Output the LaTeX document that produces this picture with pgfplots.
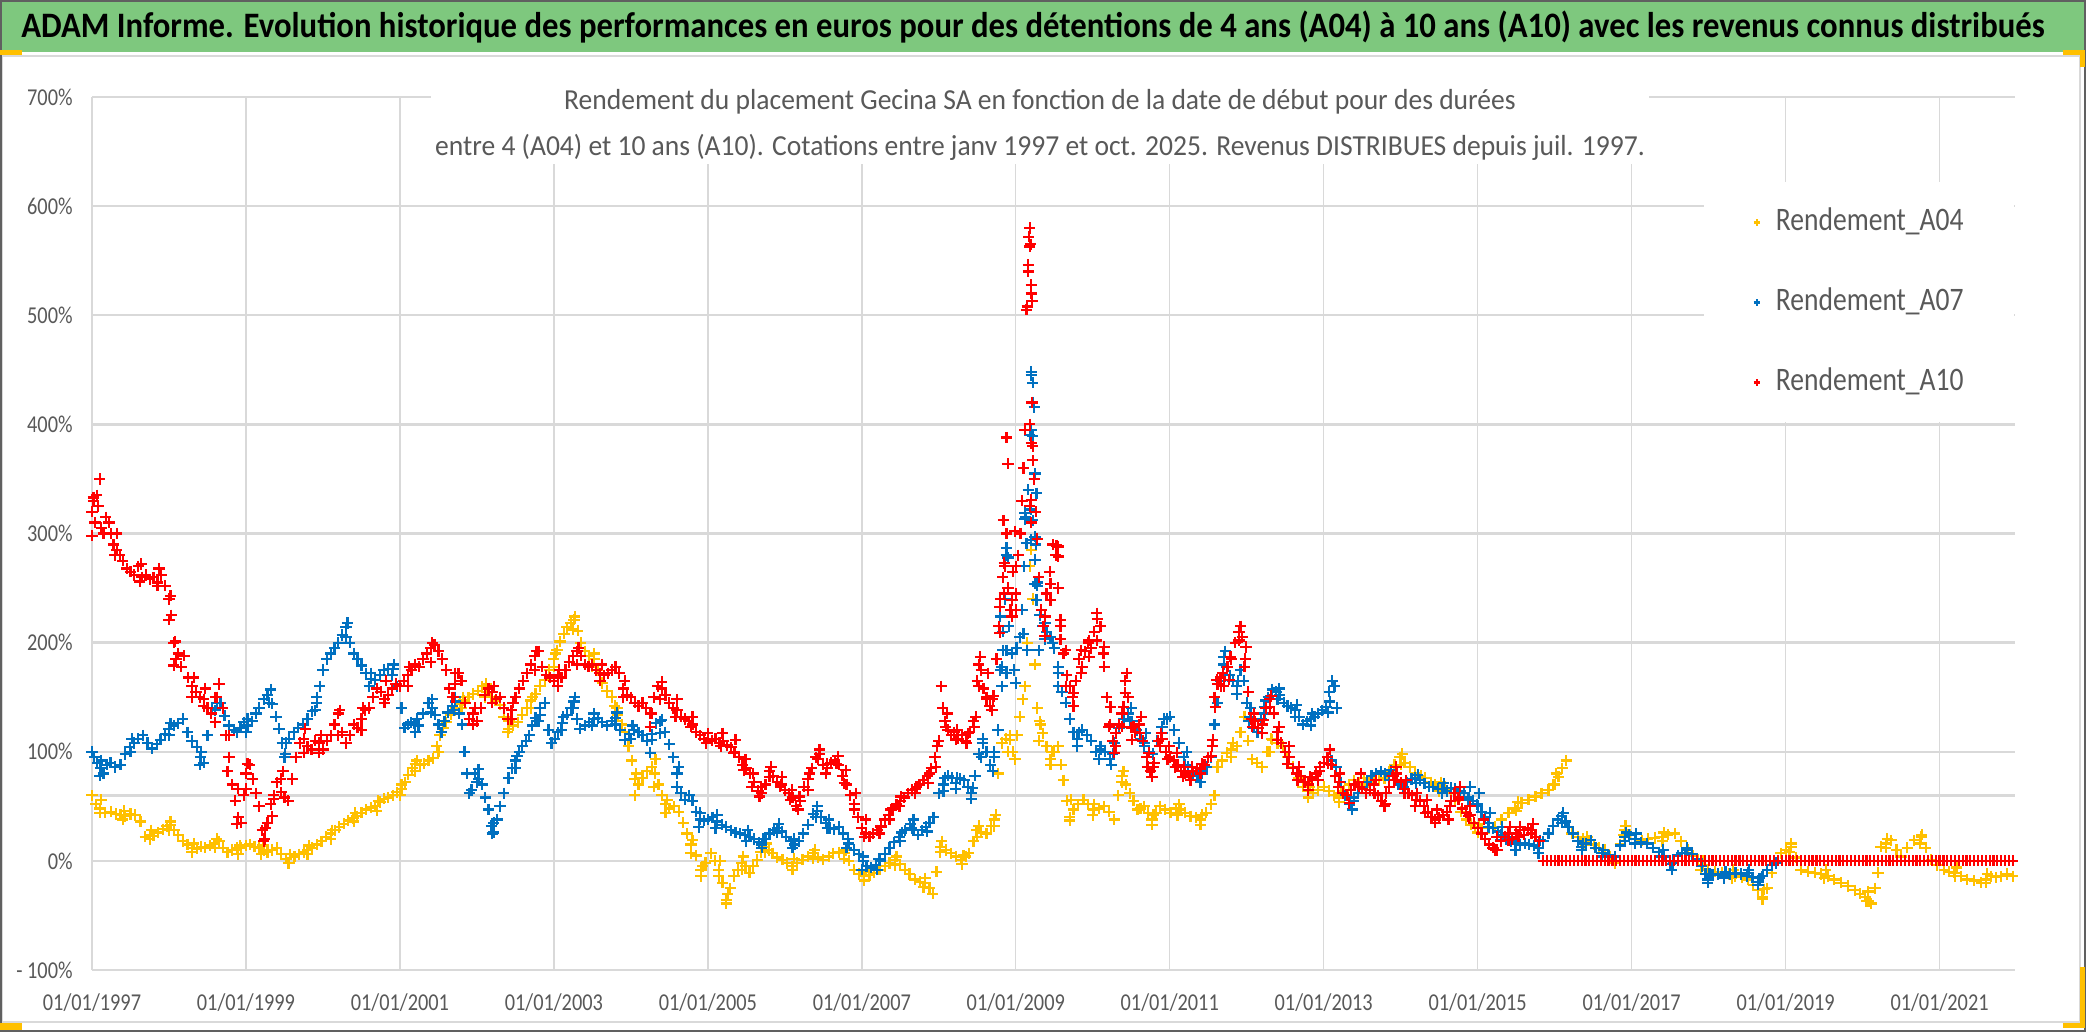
\documentclass[border=0pt]{standalone}
\usepackage{fontspec}
\setmainfont{Carlito}[FakeStretch=0.84]
\newfontfamily\bannerfont{Carlito}[FakeStretch=0.914]
\newfontfamily\titlefont{Carlito}[FakeStretch=0.95]
\usepackage{pgfplots}
\pgfplotsset{compat=1.18}
\definecolor{banner}{RGB}{126,200,126}
\definecolor{txtgray}{RGB}{89,89,89}
\definecolor{gridgray}{RGB}{217,217,217}
\definecolor{cA04}{RGB}{255,192,0}
\definecolor{cA07}{RGB}{0,112,192}
\definecolor{cA10}{RGB}{255,0,0}
\definecolor{handle}{RGB}{255,192,0}
\pgfplotsset{ser/.style={only marks, mark=+, mark size=2.8pt, line width=1.1pt}}

\begin{document}
\begin{tikzpicture}
\path[use as bounding box] (0,0) rectangle (1043pt,516pt);
\fill[white] (0,0) rectangle (1043pt,516pt);
\fill[banner] (0,490pt) rectangle (1043pt,516pt);
\draw[gridgray, line width=1pt] (1pt,5pt) rectangle (1040pt,488pt);
\node[font=\bannerfont\bfseries\fontsize{17.9}{20}\selectfont, text=black] at (516.5pt,502.5pt)
  {ADAM Informe. Evolution historique des performances en euros pour des détentions de 4 ans (A04) à 10 ans (A10) avec les revenus connus distribués};

\begin{axis}[
  at={(46pt,31pt)}, anchor=south west, scale only axis,
  width=961.5pt, height=436.5pt,
  xmin=1997, xmax=2021.98, ymin=-100, ymax=700,
  axis line style={draw=none},
  xtick={1997,1999,...,2021},
  xticklabels={01/01/1997,01/01/1999,01/01/2001,01/01/2003,01/01/2005,01/01/2007,01/01/2009,01/01/2011,01/01/2013,01/01/2015,01/01/2017,01/01/2019,01/01/2021},
  ytick={-100,0,100,200,300,400,500,600,700},
  yticklabels={{- 100\%},0\%,100\%,200\%,300\%,400\%,500\%,600\%,700\%},
  major tick length=0pt,
  xmajorgrids, ymajorgrids,
  x grid style={gridgray, line width=0.7pt},
  y grid style={gridgray, line width=1.2pt},
  ticklabel style={font=\fontsize{12.1}{14}\selectfont, text=txtgray, inner sep=0pt},
  xticklabel style={anchor=center, yshift=-16.5pt},
  yticklabel style={anchor=east, xshift=-9.5pt},
  clip=false,
  legend cell align=left,
  legend image code/.code={\draw[#1] plot coordinates {(0pt,0pt)};},
  legend image post style={mark size=1.6pt},
  legend style={at={(0.8378,0.9026)}, anchor=north west, fill=white, draw=none,
    inner xsep=25pt, inner ysep=12pt, row sep=24pt,
    column sep=8pt, font=\fontsize{16.4}{18}\selectfont, text=txtgray,
    nodes={inner sep=0pt, text height=12pt, text depth=4pt}},
]
\addplot[gridgray, line width=1.2pt, mark=none, forget plot] coordinates {(1997,60) (2021.98,60)};

% A04: band edges, then the main trace
\addplot[ser, color=cA04, forget plot] coordinates {
(1997.10,44) (1997.12,56) (1997.40,38) (1997.42,46) (1997.75,20) (1997.77,28) (1998.00,28) (1998.02,36)
(1998.30,8) (1998.32,16) (1998.60,12) (1998.62,20) (1998.90,6) (1998.92,14) (1999.20,6) (1999.22,14)
(1999.55,-2) (1999.57,6) (1999.80,6) (1999.82,14) (2000.10,20) (2000.12,28) (2000.40,36) (2000.42,44)
(2000.70,46) (2000.72,55) (2001.00,60) (2001.02,70) (2001.20,82) (2001.22,92) (2001.50,100) (2001.52,115)
(2001.80,140) (2001.82,150) (2002.10,150) (2002.12,162) (2002.40,118) (2002.42,128) (2002.70,140) (2002.72,150)
(2003.00,178) (2003.02,190) (2003.25,212) (2003.27,224) (2003.50,178) (2003.52,190) (2003.80,128) (2003.82,140)
(2004.05,60) (2004.07,80) (2004.30,68) (2004.32,93) (2004.45,44) (2004.47,56) (2004.78,7) (2004.80,19)
(2004.91,-14) (2004.93,-5) (2005.14,-14) (2005.16,0) (2005.24,-39) (2005.26,-30) (2005.44,-8) (2005.46,4)
(2005.74,8) (2005.76,16) (2006.10,-8) (2006.12,2) (2006.37,2) (2006.39,10) (2006.77,2) (2006.79,10)
(2007.03,-18) (2007.05,-10) (2007.43,-4) (2007.45,4) (2007.80,-24) (2007.82,-16) (2008.02,8) (2008.04,18)
(2008.30,-3) (2008.32,5) (2008.50,22) (2008.52,32) (2008.72,32) (2008.74,42) (2008.90,100) (2008.92,115)
(2009.30,110) (2009.32,125) (2009.45,88) (2009.47,100) (2009.70,37) (2009.72,56) (2010.00,42) (2010.02,52)
(2010.38,72) (2010.40,82) (2010.77,33) (2010.79,42) (2011.10,42) (2011.12,52) (2011.40,33) (2011.42,42)
(2011.80,95) (2011.82,108) (2012.30,100) (2012.32,112) (2012.80,58) (2012.82,68) (2013.20,54) (2013.22,62)
(2013.50,66) (2013.52,76) (2014.00,88) (2014.02,98) (2014.50,64) (2014.52,72) (2015.00,26) (2015.02,34)
(2015.50,46) (2015.52,54) (2016.00,70) (2016.02,80) (2016.40,15) (2016.42,22) (2016.90,24) (2016.92,32)
(2017.40,18) (2017.42,26) (2017.90,-8) (2017.92,0) (2018.30,-16) (2018.32,-8) (2018.70,-35) (2018.72,-26)
(2019.05,8) (2019.07,16) (2019.50,-16) (2019.52,-8) (2020.05,-37) (2020.07,-28) (2020.30,12) (2020.32,20)
(2020.75,16) (2020.77,24) (2021.20,-14) (2021.22,-6) (2021.60,-20) (2021.62,-12)
};
\addplot[ser, color=cA04] coordinates {
(1997.00,60) (1997.05,52) (1997.10,48) (1997.17,44) (1997.25,45) (1997.31,43) (1997.37,42) (1997.43,41)
(1997.50,43) (1997.56,42) (1997.63,36) (1997.69,22) (1997.75,24) (1997.80,23) (1997.86,26) (1997.92,29)
(1997.97,32) (1998.02,33) (1998.07,28) (1998.12,24) (1998.18,18) (1998.24,15) (1998.30,12) (1998.36,11)
(1998.42,13) (1998.47,12) (1998.53,14) (1998.59,16) (1998.65,18) (1998.70,12) (1998.76,8) (1998.82,10)
(1998.88,12) (1998.94,12) (1999.00,14) (1999.05,15) (1999.11,13) (1999.17,12) (1999.23,10) (1999.28,8)
(1999.34,10) (1999.40,12) (1999.46,6) (1999.52,2) (1999.56,-2) (1999.63,4) (1999.69,6) (1999.75,8)
(1999.80,10) (1999.86,12) (1999.92,15) (1999.98,18) (2000.04,22) (2000.10,25) (2000.16,28) (2000.21,31)
(2000.27,34) (2000.33,37) (2000.39,39) (2000.44,41) (2000.50,44) (2000.56,47) (2000.62,49) (2000.68,50)
(2000.74,54) (2000.79,57) (2000.85,58) (2000.91,60) (2000.96,63) (2001.02,66) (2001.07,72) (2001.11,79)
(2001.16,85) (2001.20,89) (2001.26,88) (2001.31,89) (2001.37,92) (2001.43,94) (2001.48,105) (2001.52,115)
(2001.56,122) (2001.60,127) (2001.66,134) (2001.72,140) (2001.78,144) (2001.83,147) (2001.89,150) (2001.95,153)
(2002.01,156) (2002.07,160) (2002.12,155) (2002.18,150) (2002.24,147) (2002.30,143) (2002.35,132) (2002.41,121)
(2002.47,124) (2002.53,127) (2002.59,134) (2002.65,140) (2002.70,147) (2002.76,153) (2002.82,160) (2002.88,166)
(2002.94,175) (2003.00,185) (2003.04,193) (2003.08,201) (2003.13,208) (2003.17,214) (2003.22,218) (2003.26,221)
(2003.31,211) (2003.35,200) (2003.40,192) (2003.46,188) (2003.52,185) (2003.57,175) (2003.63,163) (2003.69,156)
(2003.75,150) (2003.79,142) (2003.83,134) (2003.88,125) (2003.92,118) (2003.97,105) (2004.01,92) (2004.05,75)
(2004.10,70) (2004.15,76) (2004.21,82) (2004.27,86) (2004.31,80) (2004.36,70) (2004.40,60) (2004.45,52)
(2004.50,48) (2004.56,50) (2004.62,45) (2004.68,35) (2004.73,25) (2004.78,15) (2004.85,5) (2004.91,-8)
(2004.97,-2) (2005.04,7) (2005.09,0) (2005.14,-8) (2005.19,-20) (2005.24,-36) (2005.29,-25) (2005.34,-14)
(2005.39,-8) (2005.44,-2) (2005.49,-5) (2005.54,-11) (2005.59,-5) (2005.64,1) (2005.69,8) (2005.74,13)
(2005.79,10) (2005.84,7) (2005.90,3) (2005.97,1) (2006.03,-2) (2006.10,-5) (2006.16,-2) (2006.23,1)
(2006.30,4) (2006.37,7) (2006.43,3) (2006.50,1) (2006.57,4) (2006.63,7) (2006.70,8) (2006.77,7)
(2006.83,0) (2006.90,-8) (2006.96,-12) (2007.03,-14) (2007.10,-13) (2007.16,-11) (2007.23,-8) (2007.30,-5)
(2007.36,-2) (2007.43,1) (2007.50,-3) (2007.56,-8) (2007.62,-12) (2007.69,-17) (2007.76,-19) (2007.82,-20)
(2007.88,-25) (2007.92,-30) (2007.97,-10) (2008.02,13) (2008.09,10) (2008.16,7) (2008.22,4) (2008.29,1)
(2008.35,4) (2008.39,7) (2008.45,18) (2008.49,28) (2008.55,26) (2008.62,25) (2008.68,32) (2008.72,38)
(2008.77,80) (2008.82,108) (2008.87,112) (2008.92,111) (2008.96,100) (2008.99,93) (2009.02,115) (2009.05,132)
(2009.09,148) (2009.12,160) (2009.15,200) (2009.18,270) (2009.20,285) (2009.22,240) (2009.25,180) (2009.28,140)
(2009.31,128) (2009.35,117) (2009.40,105) (2009.45,93) (2009.50,100) (2009.55,105) (2009.59,88) (2009.62,74)
(2009.66,55) (2009.70,40) (2009.75,47) (2009.81,52) (2009.88,56) (2009.94,52) (2010.01,47) (2010.08,48)
(2010.15,50) (2010.21,45) (2010.28,38) (2010.33,60) (2010.38,78) (2010.43,70) (2010.48,62) (2010.53,55)
(2010.58,47) (2010.62,48) (2010.67,50) (2010.72,44) (2010.77,38) (2010.82,44) (2010.87,50) (2010.94,47)
(2011.01,44) (2011.08,48) (2011.14,47) (2011.20,44) (2011.27,41) (2011.34,40) (2011.40,38) (2011.47,44)
(2011.54,52) (2011.58,60) (2011.62,86) (2011.68,92) (2011.74,99) (2011.80,102) (2011.87,105) (2011.92,118)
(2011.97,132) (2012.02,110) (2012.07,93) (2012.13,90) (2012.20,86) (2012.27,100) (2012.33,111) (2012.40,108)
(2012.47,105) (2012.53,95) (2012.60,86) (2012.67,76) (2012.73,68) (2012.80,64) (2012.86,62) (2012.93,65)
(2013.00,68) (2013.07,64) (2013.13,60) (2013.20,58) (2013.26,64) (2013.33,70) (2013.39,74) (2013.46,72)
(2013.53,70) (2013.59,72) (2013.66,74) (2013.72,74) (2013.79,76) (2013.85,82) (2013.92,88) (2013.99,95)
(2014.05,90) (2014.12,86) (2014.19,80) (2014.26,78) (2014.32,76) (2014.39,72) (2014.45,70) (2014.52,68)
(2014.58,66) (2014.65,62) (2014.71,55) (2014.78,45) (2014.85,38) (2014.91,33) (2014.97,31) (2015.05,30)
(2015.14,30) (2015.23,31) (2015.31,38) (2015.40,44) (2015.48,48) (2015.57,53) (2015.66,56) (2015.75,59)
(2015.83,62) (2015.92,65) (2015.98,70) (2016.05,77) (2016.10,85) (2016.15,92) (2016.22,25) (2016.30,22)
(2016.37,20) (2016.44,19) (2016.51,15) (2016.58,12) (2016.65,10) (2016.72,4) (2016.78,-2) (2016.85,15)
(2016.91,28) (2016.98,24) (2017.05,20) (2017.13,19) (2017.21,20) (2017.30,21) (2017.39,22) (2017.47,24)
(2017.56,25) (2017.64,18) (2017.73,10) (2017.80,5) (2017.86,1) (2017.93,-4) (2017.99,-8) (2018.08,-10)
(2018.17,-11) (2018.26,-12) (2018.34,-14) (2018.43,-15) (2018.51,-17) (2018.58,-22) (2018.64,-27) (2018.70,-33)
(2018.76,-25) (2018.82,-11) (2018.88,-2) (2018.94,7) (2019.00,10) (2019.07,13) (2019.13,3) (2019.20,-8)
(2019.29,-10) (2019.38,-11) (2019.46,-12) (2019.55,-14) (2019.63,-17) (2019.72,-20) (2019.81,-23) (2019.90,-27)
(2019.97,-30) (2020.03,-33) (2020.08,-37) (2020.11,-39) (2020.16,-25) (2020.20,-11) (2020.24,13) (2020.30,16)
(2020.37,19) (2020.44,10) (2020.50,4) (2020.58,12) (2020.67,19) (2020.76,22) (2020.82,12) (2020.89,1)
(2020.97,-4) (2021.06,-8) (2021.12,-10) (2021.19,-11) (2021.28,-14) (2021.36,-17) (2021.45,-18) (2021.54,-20)
(2021.60,-17) (2021.67,-14) (2021.73,-15) (2021.80,-14) (2021.88,-12) (2021.95,-14)
};
\addlegendentry{Rendement\_A04}

% A07: band edges, then the main trace
\addplot[ser, color=cA07, forget plot] coordinates {
(1997.10,78) (1997.12,92) (1997.50,100) (1997.52,112) (1998.00,115) (1998.02,126) (1998.40,88) (1998.42,100)
(1998.60,138) (1998.62,150) (1999.00,118) (1999.02,130) (1999.30,145) (1999.32,157) (1999.50,95) (1999.52,108)
(1999.90,138) (1999.92,150) (2000.30,205) (2000.32,218) (2000.60,160) (2000.62,172) (2000.90,170) (2000.92,180)
(2001.20,118) (2001.22,130) (2001.40,136) (2001.42,148) (2001.70,138) (2001.72,150) (2002.00,72) (2002.02,84)
(2002.20,25) (2002.22,35) (2002.50,85) (2002.52,96) (2002.80,128) (2002.82,140) (2003.10,120) (2003.12,132)
(2003.25,140) (2003.27,150) (2003.50,124) (2003.52,135) (2003.80,125) (2003.82,136) (2004.00,112) (2004.02,124)
(2004.25,99) (2004.27,111) (2004.38,117) (2004.40,129) (2004.60,68) (2004.62,86) (2004.88,31) (2004.90,44)
(2005.10,30) (2005.12,42) (2005.50,18) (2005.52,28) (2005.70,12) (2005.72,20) (2005.90,26) (2005.92,34)
(2006.10,12) (2006.12,20) (2006.40,40) (2006.42,50) (2006.55,30) (2006.57,38) (2006.80,12) (2006.82,20)
(2007.00,-8) (2007.02,4) (2007.20,-8) (2007.22,2) (2007.50,18) (2007.52,26) (2007.65,30) (2007.67,38)
(2007.85,27) (2007.87,35) (2008.06,64) (2008.08,76) (2008.22,66) (2008.24,76) (2008.42,57) (2008.44,67)
(2008.55,95) (2008.57,112) (2008.70,82) (2008.72,100)
(2008.82,160) (2008.82,178) (2008.88,172) (2008.88,193) (2008.95,190) (2009.00,163) (2009.12,313) (2009.12,319)
(2009.14,291) (2009.25,297) (2009.25,276) (2009.28,255) (2009.38,203) (2009.38,218) (2009.48,200) (2009.55,160)
(2009.55,178) (2009.20,448) (2009.22,438) (2009.24,416) (2009.20,395) (2009.22,389) (2009.25,355) (2009.27,337)
(2009.20,322) (2009.22,312) (2008.88,287) (2008.90,278) (2009.20,294) (2009.25,254) (2009.27,239) (2009.30,193)
(2009.10,208) (2009.15,193) (2008.80,224) (2008.83,193)
(2009.80,105) (2009.82,118) (2010.08,93) (2010.10,105) (2010.24,88) (2010.26,98) (2010.48,128) (2010.50,140)
(2010.67,105) (2010.69,117) (2010.90,117) (2010.92,130) (2011.20,88) (2011.22,100) (2011.40,72) (2011.42,82)
(2011.70,180) (2011.72,192) (2011.87,153) (2011.89,165) (2012.03,128) (2012.05,140) (2012.23,135) (2012.25,147)
(2012.40,148) (2012.42,158) (2012.63,132) (2012.65,143) (2012.83,124) (2012.85,135) (2013.06,136) (2013.08,146)
(2013.37,47) (2013.39,58) (2013.85,74) (2013.87,83) (2014.20,71) (2014.22,79) (2014.54,62) (2014.56,71)
(2014.88,56) (2014.90,68) (2015.00,50) (2015.02,62) (2015.14,31) (2015.16,44) (2015.30,19) (2015.32,31)
(2015.49,10) (2015.51,22) (2015.79,7) (2015.81,19) (2016.09,35) (2016.11,44) (2016.35,10) (2016.37,16)
(2016.61,4) (2016.63,10) (2016.91,18) (2016.93,26) (2017.04,16) (2017.06,25) (2017.39,4) (2017.41,10)
(2017.52,-8) (2017.54,-2) (2017.70,7) (2017.72,12) (2017.99,-20) (2018.01,-12) (2018.20,-16) (2018.22,-10)
(2018.50,-14) (2018.52,-8) (2018.64,-22) (2018.66,-16)
};
\addplot[ser, color=cA07] coordinates {
(1997.00,100) (1997.03,95) (1997.07,90) (1997.11,85) (1997.15,80) (1997.19,88) (1997.24,90) (1997.30,86)
(1997.37,88) (1997.43,98) (1997.49,104) (1997.55,108) (1997.60,112) (1997.66,115) (1997.72,108) (1997.78,103)
(1997.84,107) (1997.89,111) (1997.95,116) (1998.00,121) (1998.06,124) (1998.12,126) (1998.18,130) (1998.24,118)
(1998.30,110) (1998.36,104) (1998.41,95) (1998.45,90) (1998.50,115) (1998.56,140) (1998.62,145) (1998.67,145)
(1998.72,133) (1998.78,124) (1998.84,120) (1998.88,118) (1998.93,122) (1998.97,127) (1999.02,124) (1999.08,128)
(1999.13,135) (1999.17,140) (1999.23,148) (1999.28,152) (1999.34,144) (1999.39,132) (1999.43,121) (1999.47,108)
(1999.51,98) (1999.56,112) (1999.62,118) (1999.68,122) (1999.74,125) (1999.80,130) (1999.86,137) (1999.92,145)
(1999.96,160) (2000.00,175) (2000.05,185) (2000.10,190) (2000.15,195) (2000.20,200) (2000.25,207) (2000.30,214)
(2000.35,200) (2000.40,190) (2000.45,185) (2000.50,179) (2000.56,172) (2000.62,167) (2000.68,166) (2000.74,170)
(2000.79,175) (2000.85,176) (2000.91,176) (2000.96,160) (2001.02,140) (2001.06,122) (2001.10,125) (2001.14,127)
(2001.19,126) (2001.24,124) (2001.30,135) (2001.37,145) (2001.42,140) (2001.46,134) (2001.50,125) (2001.54,118)
(2001.58,128) (2001.62,136) (2001.68,142) (2001.72,146) (2001.77,135) (2001.81,125) (2001.84,100) (2001.87,80)
(2001.90,62) (2001.93,65) (2001.97,80) (2002.02,75) (2002.07,70) (2002.11,58) (2002.15,47) (2002.19,32)
(2002.22,26) (2002.26,38) (2002.30,50) (2002.35,62) (2002.41,76) (2002.46,85) (2002.50,92) (2002.55,100)
(2002.59,105) (2002.64,110) (2002.68,115) (2002.72,124) (2002.76,131) (2002.82,134) (2002.88,145) (2002.93,120)
(2002.97,108) (2003.01,112) (2003.05,118) (2003.11,126) (2003.17,134) (2003.22,140) (2003.26,146) (2003.30,130)
(2003.34,121) (2003.40,124) (2003.46,127) (2003.52,130) (2003.57,131) (2003.63,127) (2003.69,124) (2003.75,128)
(2003.80,131) (2003.86,120) (2003.92,111) (2003.98,116) (2004.04,120) (2004.10,118) (2004.15,115) (2004.21,110)
(2004.27,116) (2004.33,126) (2004.38,128) (2004.44,118) (2004.50,107) (2004.55,95) (2004.60,80) (2004.65,62)
(2004.70,56) (2004.76,60) (2004.80,55) (2004.85,45) (2004.90,38) (2004.95,37) (2005.00,38) (2005.06,40)
(2005.12,36) (2005.18,33) (2005.24,31) (2005.30,28) (2005.36,26) (2005.42,25) (2005.48,24) (2005.54,22)
(2005.60,20) (2005.66,17) (2005.70,15) (2005.75,20) (2005.80,25) (2005.86,28) (2005.90,30) (2005.96,27)
(2006.02,22) (2006.08,18) (2006.13,15) (2006.18,18) (2006.24,25) (2006.30,33) (2006.37,43) (2006.42,46)
(2006.47,40) (2006.53,35) (2006.58,30) (2006.64,29) (2006.70,31) (2006.76,25) (2006.83,16) (2006.90,10)
(2006.96,6) (2007.02,0) (2007.06,-5) (2007.12,-6) (2007.18,-4) (2007.24,0) (2007.30,6) (2007.36,12)
(2007.42,17) (2007.49,22) (2007.56,28) (2007.63,34) (2007.68,28) (2007.73,24) (2007.78,28) (2007.83,31)
(2007.88,35) (2007.93,40) (2008.00,62) (2008.06,70) (2008.12,78) (2008.17,76) (2008.22,71) (2008.28,75)
(2008.33,74) (2008.38,68) (2008.42,62) (2008.47,78) (2008.52,98) (2008.57,108) (2008.62,100) (2008.67,88)
(2008.72,95) (2008.77,120) (2008.80,175) (2008.83,210) (2008.86,240) (2008.88,280) (2008.91,215) (2008.95,190)
(2008.98,175) (2009.01,195) (2009.05,205) (2009.08,230) (2009.11,270) (2009.13,315) (2009.16,340) (2009.18,390)
(2009.20,445) (2009.22,420) (2009.24,350) (2009.26,290) (2009.28,252) (2009.31,225) (2009.35,215) (2009.40,210)
(2009.45,205) (2009.50,195) (2009.55,172) (2009.60,155) (2009.65,145) (2009.70,130) (2009.75,118) (2009.80,112)
(2009.86,120) (2009.92,115) (2009.98,110) (2010.04,100) (2010.10,102) (2010.16,100) (2010.22,93) (2010.28,108)
(2010.34,122) (2010.40,130) (2010.46,135) (2010.51,128) (2010.57,120) (2010.62,112) (2010.67,108) (2010.73,100)
(2010.78,98) (2010.84,110) (2010.90,123) (2010.96,130) (2011.00,132) (2011.06,120) (2011.12,108) (2011.18,95)
(2011.24,86) (2011.30,80) (2011.36,78) (2011.42,80) (2011.48,86) (2011.54,95) (2011.58,125) (2011.62,145)
(2011.66,165) (2011.70,187) (2011.74,178) (2011.78,170) (2011.82,165) (2011.87,160) (2011.92,175) (2011.96,165)
(2012.00,145) (2012.04,132) (2012.09,122) (2012.14,118) (2012.19,130) (2012.23,141) (2012.28,150) (2012.33,157)
(2012.38,155) (2012.43,152) (2012.48,145) (2012.53,142) (2012.58,140) (2012.63,138) (2012.68,132) (2012.73,125)
(2012.78,128) (2012.83,130) (2012.88,132) (2012.93,135) (2012.98,138) (2013.03,141) (2013.07,155) (2013.11,165)
(2013.14,160) (2013.17,140)
(2013.10,92) (2013.16,86) (2013.22,72) (2013.28,60) (2013.34,52) (2013.39,55) (2013.45,62) (2013.50,68)
(2013.56,72) (2013.62,78) (2013.68,80) (2013.74,82) (2013.80,80) (2013.85,78) (2013.91,74) (2013.97,70)
(2014.03,68) (2014.08,72) (2014.14,75) (2014.19,76) (2014.25,74) (2014.31,71) (2014.37,68) (2014.42,68)
(2014.48,66) (2014.54,66) (2014.60,64) (2014.65,67) (2014.71,66) (2014.77,64) (2014.82,62) (2014.88,58)
(2014.94,55) (2014.99,52) (2015.05,45) (2015.10,40) (2015.14,35) (2015.20,30) (2015.26,27) (2015.31,24)
(2015.37,20) (2015.43,18) (2015.49,16) (2015.55,15) (2015.61,16) (2015.67,15) (2015.73,14) (2015.79,12)
(2015.85,18) (2015.92,25) (2015.98,32) (2016.04,38) (2016.09,41) (2016.14,36) (2016.18,31) (2016.24,25)
(2016.30,18) (2016.35,13) (2016.41,16) (2016.47,19) (2016.53,12) (2016.61,7) (2016.70,5) (2016.78,4)
(2016.85,14) (2016.91,22) (2016.97,24) (2017.04,20) (2017.12,17) (2017.20,16) (2017.28,12) (2017.35,8)
(2017.42,4) (2017.50,-3) (2017.55,0) (2017.60,5) (2017.65,7) (2017.72,10) (2017.78,6) (2017.85,2)
(2017.91,-5) (2017.96,-12) (2017.99,-17) (2018.05,-13) (2018.12,-12) (2018.20,-14) (2018.28,-12) (2018.35,-11)
(2018.42,-12) (2018.51,-11) (2018.57,-15) (2018.64,-19) (2018.70,-14) (2018.76,-8) (2018.82,-4) (2018.88,-2)
};
\addlegendentry{Rendement\_A07}

% A10: band edges, then the main trace
\addplot[ser, color=cA10, forget plot] coordinates {
(1997.00,298) (1997.02,333) (1997.30,280) (1997.32,300) (1997.62,256) (1997.64,272) (1997.85,252) (1997.87,268)
(1998.00,221) (1998.02,243) (1998.06,179) (1998.08,201) (1998.30,150) (1998.32,168) (1998.45,142) (1998.47,158)
(1998.60,127) (1998.62,150) (1998.76,82) (1998.78,115) (1998.88,34) (1998.90,66) (1999.00,66) (1999.02,89)
(1999.23,18) (1999.25,30) (1999.34,41) (1999.36,57) (1999.46,63) (1999.48,82) (1999.75,99) (1999.77,121)
(1999.95,99) (1999.97,115) (2000.20,115) (2000.22,138) (2000.50,120) (2000.52,140) (2000.80,145) (2000.82,165)
(2001.10,160) (2001.12,178) (2001.40,182) (2001.42,200) (2001.70,150) (2001.72,172) (2001.95,125) (2001.97,140)
(2002.20,145) (2002.22,160) (2002.45,130) (2002.47,145) (2002.75,175) (2002.77,192) (2003.05,160) (2003.07,175)
(2003.30,180) (2003.32,195) (2003.60,165) (2003.62,180) (2003.90,150) (2003.92,165) (2004.25,123) (2004.27,135)
(2004.38,148) (2004.40,164) (2004.58,132) (2004.60,148) (2004.78,123) (2004.80,132) (2004.98,108) (2005.00,117)
(2005.17,105) (2005.19,117) (2005.34,99) (2005.36,111) (2005.47,83) (2005.49,93) (2005.57,68) (2005.59,80)
(2005.67,59) (2005.69,68) (2005.80,77) (2005.82,86) (2005.94,68) (2005.96,77) (2006.07,56) (2006.09,65)
(2006.17,47) (2006.19,59) (2006.30,65) (2006.32,80) (2006.43,93) (2006.45,102) (2006.53,80) (2006.55,89)
(2006.67,89) (2006.69,96) (2006.77,71) (2006.79,83) (2006.90,47) (2006.92,62) (2007.03,22) (2007.05,38)
(2007.23,25) (2007.25,31) (2007.36,38) (2007.38,47) (2007.49,50) (2007.51,59) (2007.69,62) (2007.71,68)
(2007.86,71) (2007.88,80) (2007.96,86) (2007.98,105) (2008.09,123) (2008.11,135) (2008.22,111) (2008.24,120)
(2008.36,108) (2008.38,117) (2008.46,123) (2008.48,132) (2008.52,160) (2008.54,187) (2008.62,148) (2008.64,172)
(2008.69,138) (2008.71,151)
(2008.79,209) (2008.79,233) (2008.85,245) (2008.85,273) (2008.95,224) (2008.95,239) (2009.00,230) (2009.00,270)
(2009.38,206) (2009.38,224) (2009.45,239) (2009.45,254) (2009.55,279) (2009.55,288) (2009.58,203) (2009.58,221)
(2009.65,160) (2009.65,193) (2009.75,142) (2009.75,154) (2009.85,172) (2009.85,193) (2009.95,187) (2009.95,202)
(2010.05,202) (2010.05,227) (2010.15,178) (2010.15,196) (2008.88,388) (2008.90,364) (2009.18,400) (2009.20,383)
(2009.22,367) (2009.20,331) (2009.18,325) (2009.20,310) (2008.84,312) (2008.99,302) (2009.53,289) (2009.16,546)
(2009.20,528) (2009.15,508) (2009.21,513) (2009.17,572) (2009.18,563)
(2010.21,123) (2010.23,141) (2010.28,99) (2010.30,117) (2010.38,123) (2010.40,141) (2010.42,154) (2010.44,172)
(2010.51,111) (2010.53,123) (2010.61,117) (2010.63,132) (2010.71,86) (2010.73,99) (2010.77,77) (2010.79,86)
(2010.87,105) (2010.89,117) (2010.97,93) (2010.99,105) (2011.07,86) (2011.09,99) (2011.17,77) (2011.19,86)
(2011.27,74) (2011.29,86) (2011.40,80) (2011.42,89) (2011.54,96) (2011.56,111) (2011.59,141) (2011.61,166)
(2011.67,160) (2011.69,172) (2011.77,166) (2011.79,187) (2011.90,202) (2011.92,215) (2011.97,178) (2011.99,196)
(2012.07,123) (2012.09,135) (2012.20,117) (2012.22,129) (2012.30,141) (2012.32,151) (2012.40,111) (2012.42,123)
(2012.53,89) (2012.55,105) (2012.66,74) (2012.68,86) (2012.80,65) (2012.82,77) (2012.93,74) (2012.95,86)
(2013.06,89) (2013.08,102) (2013.19,68) (2013.21,80) (2013.33,53) (2013.35,65) (2013.46,68) (2013.48,80)
(2013.66,62) (2013.68,74) (2013.79,50) (2013.81,62) (2013.92,74) (2013.94,86) (2014.05,62) (2014.07,74)
(2014.19,50) (2014.21,62) (2014.32,44) (2014.34,56) (2014.45,35) (2014.47,47) (2014.62,38) (2014.64,50)
(2014.75,56) (2014.77,68) (2014.88,41) (2014.90,50) (2015.06,25) (2015.08,38) (2015.23,10) (2015.25,22)
(2015.40,19) (2015.42,31) (2015.53,22) (2015.55,31) (2015.70,25) (2015.72,34)
};
\addplot[ser, color=cA10] coordinates {
(1997.00,320) (1997.02,330) (1997.04,310) (1997.06,335) (1997.08,325) (1997.10,350) (1997.12,305) (1997.15,300)
(1997.18,315) (1997.22,310) (1997.25,300) (1997.28,290) (1997.32,285) (1997.36,280) (1997.40,275) (1997.45,268)
(1997.50,265) (1997.55,262) (1997.60,270) (1997.65,260) (1997.70,262) (1997.75,258) (1997.80,260) (1997.85,255)
(1997.90,262) (1997.95,252) (1998.00,240) (1998.03,225) (1998.06,200) (1998.09,185) (1998.12,190) (1998.16,178)
(1998.20,188) (1998.25,168) (1998.30,160) (1998.35,155) (1998.40,150) (1998.45,148) (1998.50,140) (1998.55,135)
(1998.60,150) (1998.65,162) (1998.70,140) (1998.74,115) (1998.78,95) (1998.82,70) (1998.86,55) (1998.90,40)
(1998.94,35) (1998.97,60) (1999.00,80) (1999.05,88) (1999.09,75) (1999.13,62) (1999.17,50) (1999.21,28)
(1999.24,20) (1999.28,35) (1999.32,52) (1999.36,60) (1999.40,72) (1999.45,75) (1999.50,58) (1999.55,55)
(1999.60,75) (1999.65,95) (1999.70,108) (1999.75,112) (1999.80,105) (1999.85,102) (1999.90,110) (1999.95,108)
(2000.00,102) (2000.05,110) (2000.10,115) (2000.15,125) (2000.20,135) (2000.25,118) (2000.30,108) (2000.35,115)
(2000.40,125) (2000.45,122) (2000.50,130) (2000.55,138) (2000.60,140) (2000.65,150) (2000.70,158) (2000.75,155)
(2000.80,148) (2000.85,152) (2000.90,158) (2000.95,162) (2001.00,160) (2001.05,165) (2001.10,170) (2001.15,175)
(2001.20,180) (2001.25,178) (2001.30,185) (2001.35,190) (2001.40,195) (2001.45,198) (2001.50,192) (2001.55,185)
(2001.60,175) (2001.64,158) (2001.68,150) (2001.72,162) (2001.76,172) (2001.80,165) (2001.85,145) (2001.90,130)
(2001.95,135) (2002.00,128) (2002.05,140) (2002.10,152) (2002.15,158) (2002.20,155) (2002.25,148) (2002.30,150)
(2002.35,140) (2002.40,130) (2002.45,138) (2002.50,150) (2002.55,158) (2002.60,165) (2002.65,172) (2002.70,180)
(2002.75,188) (2002.80,192) (2002.85,178) (2002.90,170) (2002.95,168) (2003.00,165) (2003.05,170) (2003.10,168)
(2003.15,175) (2003.20,182) (2003.25,188) (2003.30,192) (2003.35,188) (2003.40,180) (2003.45,178) (2003.50,180)
(2003.55,175) (2003.60,172) (2003.65,170) (2003.70,172) (2003.75,175) (2003.80,178) (2003.85,172) (2003.90,158)
(2003.95,152) (2004.00,150) (2004.05,145) (2004.10,142) (2004.15,145) (2004.20,140) (2004.25,135) (2004.30,150)
(2004.35,160) (2004.40,158) (2004.45,152) (2004.50,145) (2004.55,140) (2004.60,138) (2004.65,132) (2004.70,130)
(2004.75,128) (2004.80,125) (2004.85,118) (2004.90,115) (2004.95,112) (2005.00,112) (2005.05,110) (2005.10,112)
(2005.15,108) (2005.20,110) (2005.25,106) (2005.30,104) (2005.35,100) (2005.40,95) (2005.45,88) (2005.50,85)
(2005.55,80) (2005.60,72) (2005.65,64) (2005.70,62) (2005.75,70) (2005.80,82) (2005.85,78) (2005.90,72)
(2005.95,70) (2006.00,65) (2006.05,62) (2006.10,58) (2006.15,50) (2006.20,55) (2006.25,68) (2006.30,75)
(2006.35,85) (2006.40,95) (2006.45,98) (2006.50,88) (2006.55,85) (2006.60,90) (2006.65,92) (2006.70,88)
(2006.75,78) (2006.80,70) (2006.85,60) (2006.90,52) (2006.95,40) (2007.00,30) (2007.05,25) (2007.10,22)
(2007.15,25) (2007.20,28) (2007.25,32) (2007.30,38) (2007.35,42) (2007.40,48) (2007.45,52) (2007.50,55)
(2007.55,58) (2007.60,62) (2007.65,65) (2007.70,66) (2007.75,70) (2007.80,74) (2007.85,78) (2007.90,85)
(2007.95,95) (2008.00,110) (2008.03,160) (2008.05,140) (2008.08,128) (2008.12,120) (2008.16,115) (2008.20,118)
(2008.25,112) (2008.30,115) (2008.35,110) (2008.40,118) (2008.45,128) (2008.50,165) (2008.52,180) (2008.55,175)
(2008.58,158) (2008.62,150) (2008.66,142) (2008.70,148) (2008.75,185) (2008.78,215) (2008.80,240) (2008.83,260)
(2008.86,270) (2008.88,300) (2008.90,250) (2008.93,230) (2008.96,265) (2009.00,245) (2009.03,280) (2009.06,300)
(2009.08,330) (2009.10,360) (2009.12,395) (2009.14,505) (2009.16,540) (2009.18,580) (2009.19,565) (2009.20,520)
(2009.21,420) (2009.22,380) (2009.24,350) (2009.26,320) (2009.28,295) (2009.30,260) (2009.33,230) (2009.36,215)
(2009.40,245) (2009.44,265) (2009.48,290) (2009.52,280) (2009.55,250) (2009.58,215) (2009.62,190) (2009.66,170)
(2009.70,160) (2009.74,150) (2009.78,165) (2009.82,185) (2009.86,178) (2009.90,192) (2009.94,200) (2009.98,195)
(2010.02,210) (2010.06,222) (2010.10,215) (2010.14,190) (2010.18,150) (2010.22,125) (2010.26,110) (2010.30,105)
(2010.34,125) (2010.38,135) (2010.42,165) (2010.46,150) (2010.50,122) (2010.55,118) (2010.60,125) (2010.65,110)
(2010.70,95) (2010.75,82) (2010.80,90) (2010.85,110) (2010.90,112) (2010.95,100) (2011.00,95) (2011.05,92)
(2011.10,88) (2011.15,82) (2011.20,80) (2011.25,78) (2011.30,82) (2011.35,85) (2011.40,84) (2011.45,88)
(2011.50,95) (2011.55,105) (2011.58,150) (2011.62,162) (2011.66,168) (2011.70,160) (2011.75,178) (2011.80,185)
(2011.85,200) (2011.90,210) (2011.94,205) (2011.98,185) (2012.02,155) (2012.06,130) (2012.10,128) (2012.15,122)
(2012.20,125) (2012.25,140) (2012.30,148) (2012.35,135) (2012.40,118) (2012.45,108) (2012.50,100) (2012.55,95)
(2012.60,85) (2012.65,80) (2012.70,78) (2012.75,72) (2012.80,70) (2012.85,75) (2012.90,80) (2012.95,82)
(2013.00,90) (2013.05,95) (2013.10,88) (2013.15,78) (2013.20,72) (2013.25,62) (2013.30,60) (2013.35,65)
(2013.40,70) (2013.45,72) (2013.50,66) (2013.55,62) (2013.60,65) (2013.65,70) (2013.70,60) (2013.75,55)
(2013.80,52) (2013.85,68) (2013.90,78) (2013.95,80) (2014.00,72) (2014.05,66) (2014.10,62) (2014.15,60)
(2014.20,56) (2014.25,55) (2014.30,50) (2014.35,45) (2014.40,40) (2014.45,38) (2014.50,40) (2014.55,42)
(2014.60,45) (2014.65,55) (2014.70,62) (2014.75,58) (2014.80,48) (2014.85,44) (2014.90,42) (2014.95,35)
(2015.00,30) (2015.05,25) (2015.10,20) (2015.15,15) (2015.20,12) (2015.25,10) (2015.30,18) (2015.35,22)
(2015.40,25) (2015.45,20) (2015.50,25) (2015.55,28) (2015.60,24) (2015.65,30) (2015.70,28) (2015.75,22)
(2015.80,18)
(2015.85,0) (2015.90,0) (2015.95,0)
(2016.00,0) (2016.05,0) (2016.10,0) (2016.15,0) (2016.20,0) (2016.25,0) (2016.30,0) (2016.35,0) (2016.40,0) (2016.45,0)
(2016.50,0) (2016.55,0) (2016.60,0) (2016.65,0) (2016.70,0) (2016.75,0) (2016.80,0) (2016.85,0) (2016.90,0) (2016.95,0)
(2017.00,0) (2017.05,0) (2017.10,0) (2017.15,0) (2017.20,0) (2017.25,0) (2017.30,0) (2017.35,0) (2017.40,0) (2017.45,0)
(2017.50,0) (2017.55,0) (2017.60,0) (2017.65,0) (2017.70,0) (2017.75,0) (2017.80,0) (2017.85,0) (2017.90,0) (2017.95,0)
(2018.00,0) (2018.05,0) (2018.10,0) (2018.15,0) (2018.20,0) (2018.25,0) (2018.30,0) (2018.35,0) (2018.40,0) (2018.45,0)
(2018.50,0) (2018.55,0) (2018.60,0) (2018.65,0) (2018.70,0) (2018.75,0) (2018.80,0) (2018.85,0) (2018.90,0) (2018.95,0)
(2019.00,0) (2019.05,0) (2019.10,0) (2019.15,0) (2019.20,0) (2019.25,0) (2019.30,0) (2019.35,0) (2019.40,0) (2019.45,0)
(2019.50,0) (2019.55,0) (2019.60,0) (2019.65,0) (2019.70,0) (2019.75,0) (2019.80,0) (2019.85,0) (2019.90,0) (2019.95,0)
(2020.00,0) (2020.05,0) (2020.10,0) (2020.15,0) (2020.20,0) (2020.25,0) (2020.30,0) (2020.35,0) (2020.40,0) (2020.45,0)
(2020.50,0) (2020.55,0) (2020.60,0) (2020.65,0) (2020.70,0) (2020.75,0) (2020.80,0) (2020.85,0) (2020.90,0) (2020.95,0)
(2021.00,0) (2021.05,0) (2021.10,0) (2021.15,0) (2021.20,0) (2021.25,0) (2021.30,0) (2021.35,0) (2021.40,0) (2021.45,0)
(2021.50,0) (2021.55,0) (2021.60,0) (2021.65,0) (2021.70,0) (2021.75,0) (2021.80,0) (2021.85,0) (2021.90,0) (2021.95,0)
};
\addlegendentry{Rendement\_A10}
\end{axis}

% chart title on its white box
\fill[white] (215.5pt,434pt) rectangle (824.5pt,486pt);
\node[font=\titlefont\fontsize{14.5}{17}\selectfont, text=txtgray] at (520pt,465.2pt)
  {Rendement du placement Gecina SA en fonction de la date de début pour des durées};
\node[font=\titlefont\fontsize{14.5}{17}\selectfont, text=txtgray] at (520pt,442.5pt)
  {entre 4 (A04) et 10 ans (A10). Cotations entre janv 1997 et oct. 2025. Revenus DISTRIBUES depuis juil. 1997.};

% frame and selection handles
\draw[gray!75!black, line width=1pt] (0.5pt,0.5pt) rectangle (1042.5pt,515.5pt);
\fill[handle] (0,488.5pt) rectangle (11pt,491pt);
\fill[handle] (1031.5pt,488.5pt) rectangle (1042pt,491pt);
\fill[handle] (1040pt,482.5pt) rectangle (1042.5pt,491pt);
\fill[handle] (1040pt,2pt) rectangle (1042.5pt,32.5pt);
\fill[handle] (1031.5pt,2pt) rectangle (1042.5pt,4.5pt);
\fill[handle] (0,1pt) rectangle (11pt,4.5pt);
\end{tikzpicture}
\end{document}
